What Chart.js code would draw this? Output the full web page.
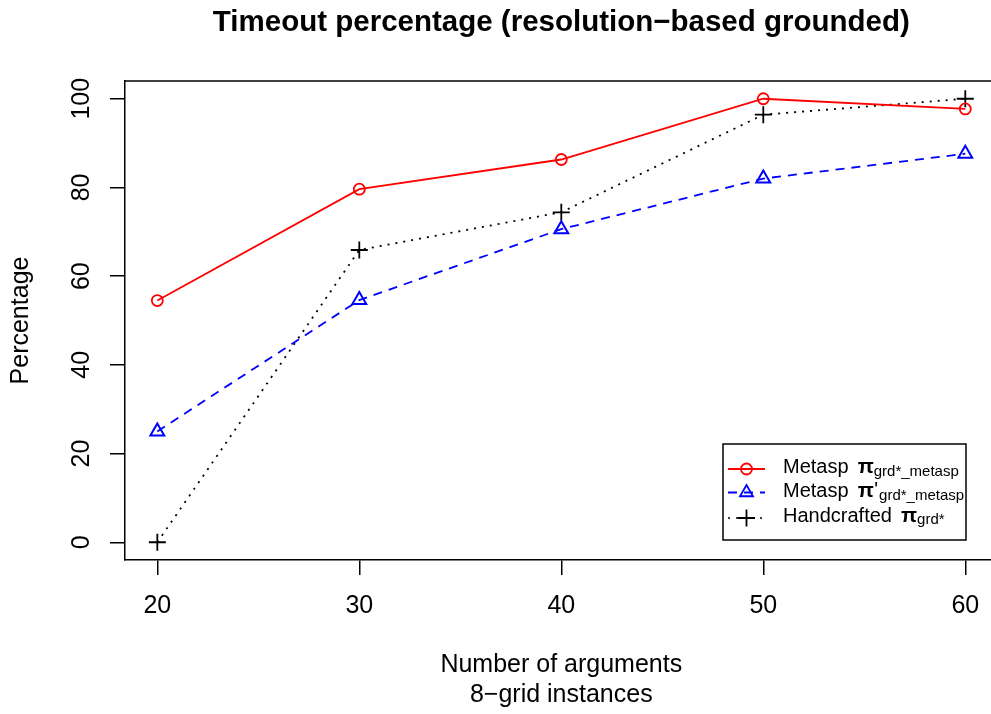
<!DOCTYPE html>
<html><head><meta charset="utf-8">
<script src="https://cdn.jsdelivr.net/npm/chart.js@4/dist/chart.umd.min.js"></script>
<style>html,body{margin:0;padding:0;background:#fff;overflow:hidden}</style>
</head><body><canvas id="c" width="1000" height="714"></canvas>
<script>
const xValues = [20, 30, 40, 50, 60];
const metaspPi = [54.5, 79.6, 86.3, 100, 97.7];
const metaspPiPrime = [25.0, 54.6, 70.6, 82.0, 87.6];
const handcraftedPi = [0, 65.9, 74.4, 96.4, 100];
const xTicks = [20, 30, 40, 50, 60];
const yTicks = [0, 20, 40, 60, 80, 100];
const chartTitle = 'Timeout percentage (resolution\u2212based grounded)';
const xTitle = ['Number of arguments', '8\u2212grid instances'];
const yTitle = 'Percentage';

const FONT = '"Liberation Sans", Arial, Helvetica, sans-serif';
Chart.defaults.font.family = FONT;
Chart.defaults.color = '#000';

const toPts = arr => xValues.map((x, i) => ({x, y: arr[i]}));

const legendRows = [
  {word: 'Metasp', prime: false, sub: 'grd*_metasp', color: '#ff0000', style: 'circle', radius: 5.5, dash: [], y: 469, base: 473},
  {word: 'Metasp', prime: true, sub: 'grd*_metasp', color: '#0000ff', style: 'triangle', radius: 7.5, dash: [9, 7], y: 492.5, base: 497},
  {word: 'Handcrafted', prime: false, sub: 'grd*', color: '#000000', style: 'cross', radius: 8.5, dash: [2, 6], y: 518, base: 521.5}
];

const decor = {
  id: 'decor',
  afterDraw(chart) {
    const ctx = chart.ctx;
    const ca = chart.chartArea;
    ctx.save();
    ctx.strokeStyle = '#000';
    ctx.lineWidth = 1.5;
    ctx.beginPath();
    ctx.moveTo(ca.left, ca.top);
    ctx.lineTo(ca.right, ca.top);
    ctx.lineTo(ca.right, ca.bottom);
    ctx.stroke();
    ctx.fillStyle = '#000';
    ctx.font = 'bold 29.5px ' + FONT;
    ctx.textAlign = 'center';
    ctx.textBaseline = 'alphabetic';
    ctx.fillText(chartTitle, (ca.left + ca.right) / 2, 30.5);
    const ys = chart.scales.y;
    ctx.font = '25px ' + FONT;
    ys.ticks.forEach(t => {
      const py = ys.getPixelForValue(t.value);
      ctx.save();
      ctx.translate(89, py);
      ctx.rotate(-Math.PI / 2);
      ctx.textAlign = 'center';
      ctx.textBaseline = 'alphabetic';
      ctx.fillText(String(t.value), 0, 0);
      ctx.restore();
    });
    ctx.lineWidth = 1.5;
    ctx.strokeStyle = '#000';
    ctx.strokeRect(723, 444, 243, 96);
    legendRows.forEach(r => {
      ctx.save();
      ctx.strokeStyle = r.color;
      ctx.lineWidth = r.style === 'cross' ? 1.5 : 1.8;
      ctx.setLineDash(r.dash);
      ctx.beginPath();
      ctx.moveTo(728, r.y);
      ctx.lineTo(765, r.y);
      ctx.stroke();
      ctx.setLineDash([]);
      ctx.fillStyle = 'rgba(0,0,0,0)';
      ctx.lineWidth = 1.8;
      Chart.helpers.drawPoint(ctx, {pointStyle: r.style, radius: r.radius, rotation: 0, borderWidth: 1.8}, 746.5, r.y);
      ctx.restore();
      ctx.fillStyle = '#000';
      ctx.textAlign = 'left';
      ctx.textBaseline = 'alphabetic';
      let x = 783;
      ctx.font = '20px ' + FONT;
      ctx.fillText(r.word, x, r.base);
      x += ctx.measureText(r.word + ' ').width + 3.5;
      ctx.font = 'bold 21px ' + FONT;
      ctx.fillText('\u03c0', x, r.base);
      x += ctx.measureText('\u03c0').width;
      if (r.prime) {
        ctx.font = '20px ' + FONT;
        ctx.fillText("'", x + 0.5, r.base - 1);
        x += ctx.measureText("'").width + 1.5;
      }
      ctx.font = '15px ' + FONT;
      ctx.fillText(r.sub, x, r.base + 2.8);
    });
    ctx.restore();
  }
};

new Chart(document.getElementById('c'), {
  type: 'line',
  data: {
    datasets: [
      {label: 'Metasp pi grd*_metasp', data: toPts(metaspPi), borderColor: '#ff0000', borderWidth: 1.8,
       pointStyle: 'circle', pointRadius: 5.5, pointBorderWidth: 1.8, pointBorderColor: '#ff0000', pointBackgroundColor: 'rgba(0,0,0,0)'},
      {label: "Metasp pi' grd*_metasp", data: toPts(metaspPiPrime), borderColor: '#0000ff', borderWidth: 1.8, borderDash: [9, 7],
       pointStyle: 'triangle', pointRadius: 8, pointBorderWidth: 2, pointBorderColor: '#0000ff', pointBackgroundColor: 'rgba(0,0,0,0)'},
      {label: 'Handcrafted pi grd*', data: toPts(handcraftedPi), borderColor: '#000000', borderWidth: 1.8, borderDash: [2, 6],
       pointStyle: 'cross', pointRadius: 8.5, pointBorderWidth: 1.8, pointBorderColor: '#000000', pointBackgroundColor: 'rgba(0,0,0,0)'}
    ]
  },
  options: {
    responsive: false,
    animation: false,
    devicePixelRatio: 1,
    layout: {autoPadding: false, padding: {top: 81, right: 2.4, left: 0, bottom: 0}},
    plugins: {legend: {display: false}, tooltip: {enabled: false}, title: {display: false}},
    scales: {
      x: {
        type: 'linear', position: 'bottom', min: 18.4, max: 61.6,
        afterBuildTicks: s => { s.ticks = xTicks.map(v => ({value: v})); },
        afterFit: s => { s.height = 154; s.paddingLeft = 0; s.paddingRight = 0; },
        grid: {drawOnChartArea: false, drawTicks: true, tickLength: 15, color: '#000', lineWidth: 1.5},
        border: {display: true, color: '#000', width: 1.5},
        ticks: {color: '#000', font: {size: 25}, padding: 16, maxRotation: 0, minRotation: 0, autoSkip: false},
        title: {display: true, text: xTitle, color: '#000', font: {size: 25, lineHeight: 1.2}, padding: {top: 0, bottom: 4}}
      },
      y: {
        type: 'linear', position: 'left', min: -4, max: 104,
        afterBuildTicks: s => { s.ticks = yTicks.map(v => ({value: v})); },
        afterFit: s => { s.width = 125; s.paddingTop = 0; s.paddingBottom = 0; },
        grid: {drawOnChartArea: false, drawTicks: true, tickLength: 15, color: '#000', lineWidth: 1.5},
        border: {display: true, color: '#000', width: 1.5},
        ticks: {color: 'rgba(0,0,0,0)', font: {size: 25}, padding: 10},
        title: {display: true, text: yTitle, color: '#000', font: {size: 25, lineHeight: 1.2}, padding: {top: 6, bottom: 0}}
      }
    }
  },
  plugins: [decor]
});
</script>
</body></html>
